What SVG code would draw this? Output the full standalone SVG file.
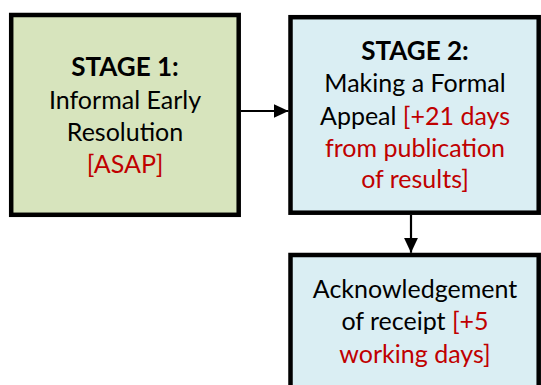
<svg xmlns="http://www.w3.org/2000/svg" width="541" height="385" viewBox="0 0 541 385">
<style>
.box{stroke:#000;stroke-width:4.5}
.g{fill:#D7E4BD}
.b{fill:#DAEEF3}
text{font-family:Lato,"Liberation Sans",sans-serif;font-size:25px;fill:#000;text-anchor:middle}
.h{font-weight:bold;font-size:26px}
.r{fill:#C00000}
.c{stroke:#000;stroke-width:2.2;fill:none}
</style>
<defs>
<marker id="ah" viewBox="0 0 15 14" refX="15" refY="7" markerWidth="15" markerHeight="14" markerUnits="userSpaceOnUse" orient="auto">
<path d="M0,0L15,7L0,14z" fill="#000"/>
</marker>
</defs>
<g id="stage1">
<rect class="box g" x="11.2" y="15" width="227.5" height="199.8"/>
<text class="h" x="125" y="76">STAGE 1:</text>
<text x="125" y="109">Informal Early</text>
<text x="125" y="141">Resolution</text>
<text class="r" x="125" y="173">[ASAP]</text>
</g>
<g id="stage2">
<rect class="box b" x="290.5" y="17.2" width="248.2" height="195.5"/>
<text class="h" x="415" y="60">STAGE 2:</text>
<text x="415" y="92">Making a Formal</text>
<text x="415" y="125">Appeal <tspan class="r">[+21 days</tspan></text>
<text class="r" x="415" y="157">from publication</text>
<text class="r" x="415" y="188">of results]</text>
</g>
<g id="ack">
<rect class="box b" x="290.5" y="255" width="248.2" height="140"/>
<text x="415" y="298">Acknowledgement</text>
<text x="415" y="330">of receipt <tspan class="r">[+5</tspan></text>
<text class="r" x="415" y="363">working days]</text>
</g>
<g id="connectors">
<path class="c" d="M241,111H288.5" marker-end="url(#ah)"/>
<path class="c" d="M411,215V252.8" marker-end="url(#ah)"/>
</g>
</svg>
